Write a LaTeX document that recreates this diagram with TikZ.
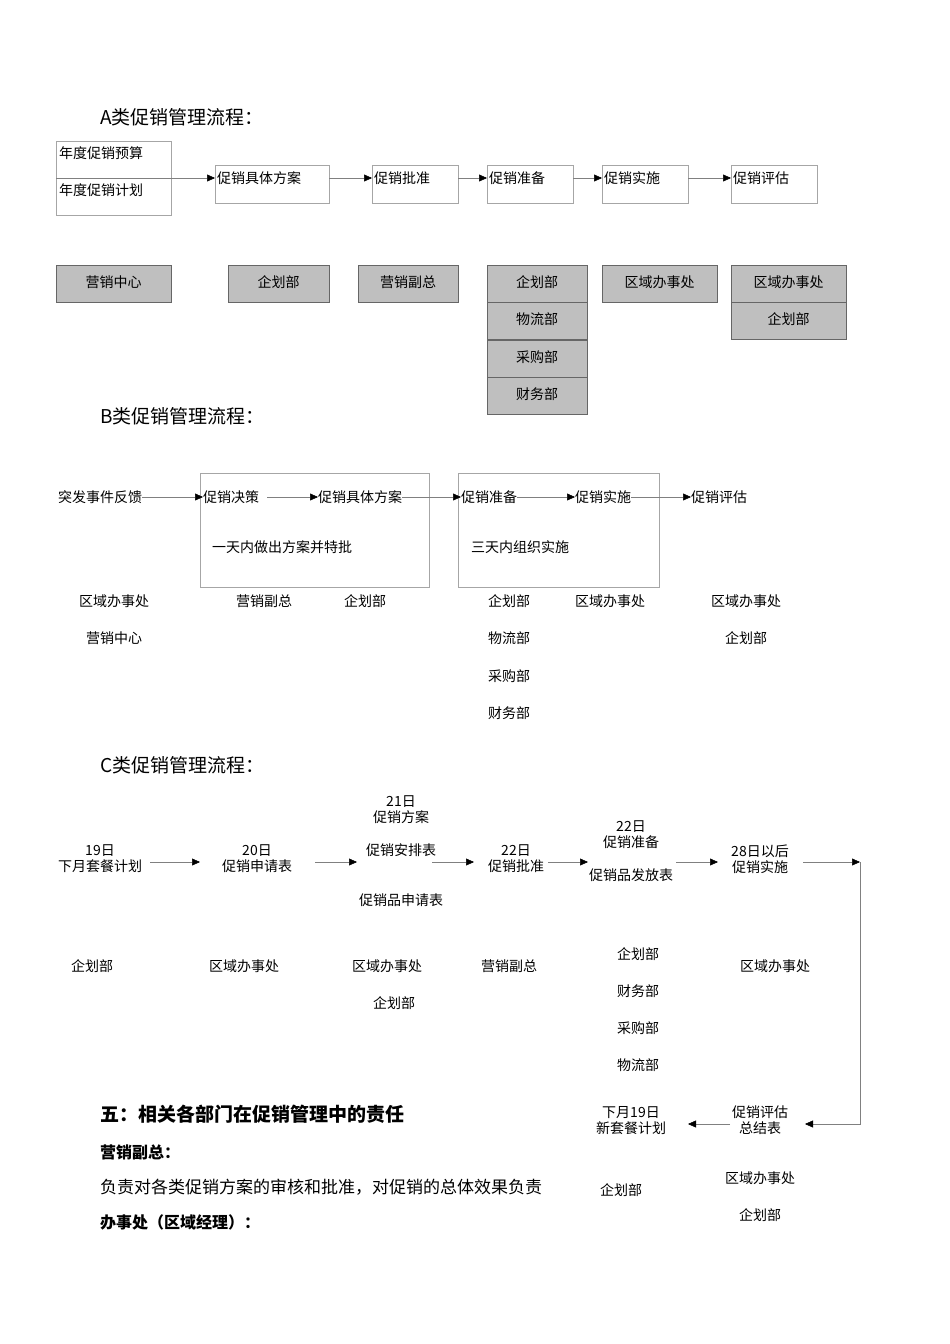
\documentclass[tikz,border=0pt]{standalone}
\usepackage{fontspec}
\setmainfont{Noto Sans CJK SC}
\usetikzlibrary{arrows.meta}
\begin{document}
\begin{tikzpicture}[x=1pt,y=-1pt,
  txt/.style={inner sep=0pt,font=\fontsize{14}{16}\selectfont},
  ltxt/.style={txt,anchor=west},
  wbox/.style={draw=gray!70,line width=0.6pt},
  gbox/.style={draw=gray!80!black,fill=gray!50,line width=0.6pt},
  arr/.style={draw=gray,line width=0.5pt,-{Triangle[length=8pt,width=7pt,fill=black,color=black]}},
  ln/.style={draw=gray,line width=0.5pt},
  head/.style={inner sep=0pt,anchor=west,font=\fontsize{19}{22}\selectfont}]
\useasboundingbox (0,0) rectangle (950,1344);
% ===== A
\node[head] (ha) at (100,117) {A类促销管理流程：};
\draw[wbox] (56,141) rectangle (171,215);
\node[ltxt] (a0) at (59,153) {年度促销预算};
\node[ltxt] (a0b) at (59,190) {年度促销计划};
\coordinate (a0s) at (56,178);
\foreach \n/\x/\w/\t in {a1/215/114/促销具体方案,a2/372/86/促销批准,a3/487/86/促销准备,a4/602/86/促销实施,a5/731/86/促销评估}{
  \draw[wbox] (\x,165) rectangle ++(\w,38);
  \node[ltxt] (\n) at (\x+2,178) {\t};
  \coordinate (\n w) at (\x,178);
  \coordinate (\n e) at (\x+\w,178);
}
\draw[arr] (a0s) -- (a1w);
\draw[arr] (a1e) -- (a2w);
\draw[arr] (a2e) -- (a3w);
\draw[arr] (a3e) -- (a4w);
\draw[arr] (a4e) -- (a5w);
\foreach \n/\x/\w/\y/\t in {g1/56/115/265/营销中心,g2/228/101/265/企划部,g3/358/100/265/营销副总,
  g4/487/100/265/企划部,g5/487/100/302/物流部,g6/487/100/340/采购部,g7/487/100/377/财务部,
  g8/602/115/265/区域办事处,g9/731/115/265/区域办事处,g10/731/115/302/企划部}{
  \draw[gbox] (\x,\y) rectangle ++(\w,37);
  \node[txt] (\n) at (\x+\w/2,\y+17) {\t};
}
% ===== B
\node[head] (hb) at (100,416) {B类促销管理流程：};
\draw[wbox] (200,473) rectangle (429,587);
\draw[wbox] (458,473) rectangle (659,587);
\node[ltxt] (b0) at (58,497) {突发事件反馈};
\node[ltxt] (b1) at (203,497) {促销决策};
\node[ltxt] (b2) at (318,497) {促销具体方案};
\node[ltxt] (b3) at (461,497) {促销准备};
\node[ltxt] (b4) at (575,497) {促销实施};
\node[ltxt] (b5) at (691,497) {促销评估};
\draw[arr] (b0.east) -- (b1.west);
\draw[arr] ([xshift=8pt]b1.east) -- (b2.west);
\draw[arr] (b2.east) -- (b3.west);
\draw[arr] (b3.east) -- (b4.west);
\draw[arr] (b4.east) -- (b5.west);
\node[ltxt] (bt1) at (212,547) {一天内做出方案并特批};
\node[ltxt] (bt2) at (471,547) {三天内组织实施};
\foreach \n/\x/\y/\t in {l1/114/601/区域办事处,l2/114/638/营销中心,l3/264/601/营销副总,l4/365/601/企划部,
  l5/509/601/企划部,l6/509/638/物流部,l7/509/676/采购部,l8/509/713/财务部,l9/610/601/区域办事处,
  l10/746/601/区域办事处,l11/746/638/企划部}{
  \node[txt] (\n) at (\x,\y) {\t};
}
% ===== C
\node[head] (hc) at (100,765) {C类促销管理流程：};
\node[txt,align=center] (c1) at (100,859) {19日\\下月套餐计划};
\node[txt,align=center] (c2) at (257,859) {20日\\促销申请表};
\node[txt,align=center] (c3a) at (401,810) {21日\\促销方案};
\node[txt] (c3) at (401,850) {促销安排表};
\node[txt] (c3b) at (401,900) {促销品申请表};
\node[txt,align=center] (c4) at (516,859) {22日\\促销批准};
\node[txt,align=center] (c5a) at (631,835) {22日\\促销准备};
\node[txt] (c5) at (631,875) {促销品发放表};
\node[txt,align=center] (c6) at (760,859) {28日以后\\促销实施};
\node[txt,align=center] (c7) at (760,1120) {促销评估\\总结表};
\node[txt,align=center] (c8) at (631,1121) {下月19日\\新套餐计划};
\coordinate (k1s) at (150,862); \coordinate (k1e) at (200,862);
\coordinate (k2s) at (315,862); \coordinate (k2e) at (357,862);
\coordinate (k3s) at (432,862); \coordinate (k3e) at (474,862);
\coordinate (k4s) at (548,862); \coordinate (k4e) at (588,862);
\coordinate (k5s) at (676,862); \coordinate (k5e) at (718,862);
\coordinate (k6s) at (803,862); \coordinate (k6e) at (860,862);
\coordinate (kc) at (860,1124); \coordinate (kd) at (805,1124);
\coordinate (k7s) at (730,1124); \coordinate (k7e) at (688,1124);
\draw[arr] (k1s) -- (k1e);
\draw[arr] (k2s) -- (k2e);
\draw[arr] (k3s) -- (k3e);
\draw[arr] (k4s) -- (k4e);
\draw[arr] (k5s) -- (k5e);
\draw[arr] (k6s) -- (k6e);
\draw[arr] (k6e) -- (kc) -- (kd);
\draw[arr] (k7s) -- (k7e);
\foreach \n/\x/\y/\t in {m1/92/966/企划部,m2/244/966/区域办事处,m3/387/966/区域办事处,m4/394/1003/企划部,
  m5/509/966/营销副总,m6/638/954/企划部,m7/638/991/财务部,m8/638/1028/采购部,m9/638/1065/物流部,
  m10/775/966/区域办事处,m11/760/1178/区域办事处,m12/760/1215/企划部}{
  \node[txt] (\n) at (\x,\y) {\t};
}
% ===== text
\node[head,font=\fontsize{19}{22}\selectfont\bfseries] (h5) at (100,1114) {五：相关各部门在促销管理中的责任};
\node[inner sep=0pt,anchor=west,font=\fontsize{16}{19}\selectfont\bfseries] (p1) at (100,1152) {营销副总：};
\node[inner sep=0pt,anchor=west,font=\fontsize{17}{20}\selectfont] (p2) at (100,1187) {负责对各类促销方案的审核和批准，对促销的总体效果负责};
\node[ltxt] (p2b) at (600,1190) {企划部};
\node[inner sep=0pt,anchor=west,font=\fontsize{16}{19}\selectfont\bfseries] (p3) at (100,1222) {办事处（区域经理）：};
\end{tikzpicture}
\end{document}
